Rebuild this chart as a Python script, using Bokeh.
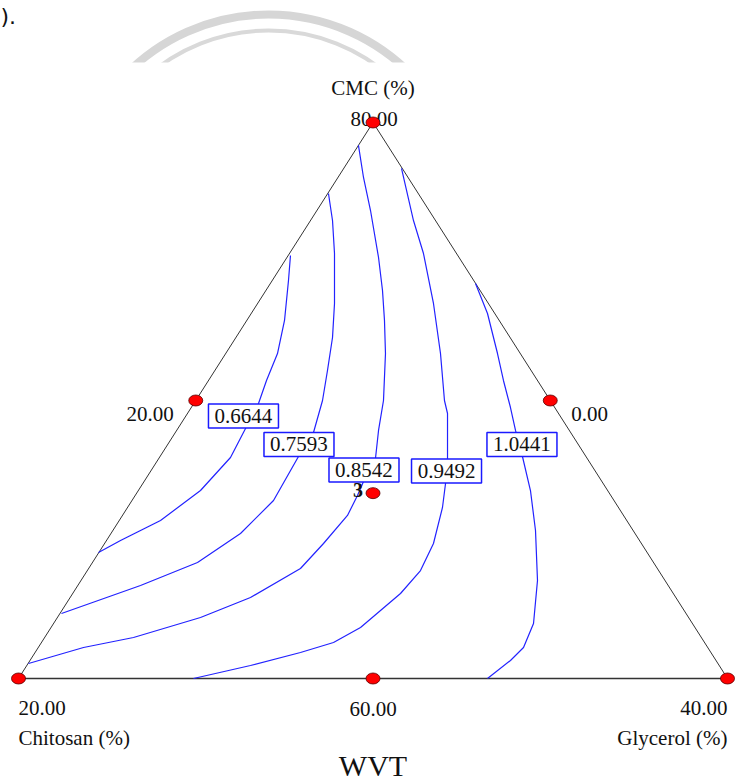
import math
from bokeh.plotting import figure
from bokeh.models import Range1d
from bokeh.core.properties import value
from bokeh.embed import file_html
from bokeh.resources import INLINE

# ---------------- data (triangle plane: u along base 0..100, v height 0..100) ----------------
levels = ["0.6644", "0.7593", "0.8542", "0.9492", "1.0441"]

c1_u = [38.36, 38.08, 37.52, 36.53, 34.98, 33.85, 32.02, 29.90, 25.67, 20.03, 14.39, 11.28]
c1_v = [76.08, 71.58, 64.39, 58.45, 53.60, 49.46, 44.96, 39.75, 33.81, 28.42, 24.82, 22.66]

c2_u = [43.72, 44.29, 44.57, 44.57, 44.29, 43.58, 42.88, 41.61, 39.49, 35.97, 31.31, 25.25, 17.21, 6.06]
c2_v = [87.23, 82.37, 76.44, 67.45, 61.33, 55.40, 50.00, 44.24, 39.93, 32.01, 26.08, 20.86, 16.73, 11.69]

c3_u = [47.95, 48.66, 49.65, 50.78, 51.34, 51.62, 51.76, 51.48, 50.78, 50.35, 48.66, 47.81, 46.40,
        43.02, 39.77, 32.72, 25.67, 16.22, 9.17, 1.41]
c3_v = [95.87, 90.11, 84.17, 75.72, 69.79, 64.39, 58.45, 50.00, 44.61, 39.57, 35.43, 32.91, 29.32,
        24.28, 19.78, 14.57, 10.97, 7.37, 5.58, 2.70]

c4_u = [54.02, 55.71, 57.12, 58.53, 59.52, 60.08, 60.51, 60.51, 60.23, 59.80, 58.53, 56.70, 53.88,
        51.06, 48.24, 44.43, 39.77, 32.72, 24.68]
c4_v = [91.73, 82.37, 76.44, 67.45, 58.45, 50.00, 47.66, 39.57, 35.07, 30.76, 24.28, 19.42, 15.29,
        12.23, 9.17, 6.47, 4.68, 2.34, 0.00]

c5_u = [64.46, 66.15, 67.56, 68.40, 69.39, 70.10, 71.08, 72.21, 72.92, 73.20, 72.64, 71.23, 69.39, 66.15]
c5_v = [71.04, 65.65, 58.45, 53.60, 48.74, 44.61, 39.93, 33.81, 26.62, 17.63, 9.89, 5.58, 3.24, 0.00]

label_u = [31.73, 39.56, 48.73, 60.37, 71.01]
label_v = [47.21, 42.09, 37.50, 37.32, 42.09]

# design points as pseudo-component fractions (CMC, Chitosan, Glycerol)
design_a = [1.0, 0.0, 0.0, 0.5, 0.5, 0.0, 1 / 3]
design_b = [0.0, 1.0, 0.0, 0.5, 0.0, 0.5, 1 / 3]
design_c = [0.0, 0.0, 1.0, 0.0, 0.5, 0.5, 1 / 3]
replicates = "3"

vertex_titles = ["CMC (%)", "Chitosan (%)", "Glycerol (%)"]
tick_labels = ["80.00", "20.00", "0.00", "20.00", "60.00", "40.00"]
title = "WVT"

# ---------------- layout ----------------
W, H = 749, 783
PX_U, PX_V = 7.09, 5.56        # screen px per data unit
X0, Y0 = 18.0, 678.0           # screen position of (0, 0) inside the figure
x_lo, x_hi = -X0 / PX_U, (W - X0) / PX_U
y_hi, y_lo = Y0 / PX_V, (Y0 - H) / PX_V


def off(u, v, dx, dy):
    """shift a data point by screen pixels (dy positive = down)"""
    return u + dx / PX_U, v - dy / PX_V


def scr(px, py):
    """data position of a screen pixel (decorations only)"""
    return (px - X0) / PX_U, (Y0 - py) / PX_V


def to_uv(a, b, c):
    return 100 * (c + a / 2), 100 * a


p = figure(width=W, height=H, x_range=Range1d(x_lo, x_hi), y_range=Range1d(y_lo, y_hi),
           output_backend="svg", toolbar_location=None, min_border=0,
           x_axis_type=None, y_axis_type=None)
p.outline_line_color = None
p.background_fill_color = "white"
p.border_fill_color = "white"

SERIF = value("Liberation Serif")

# faint watermark arcs at top (cut off by the white page band)
wc_u, wc_v = scr(268, 214)
p.arc(x=[wc_u], y=[wc_v], radius=200, radius_units="screen",
      start_angle=math.radians(44), end_angle=math.radians(136),
      line_color="#d6d6d6", line_width=8)
p.arc(x=[wc_u], y=[wc_v], radius=184, radius_units="screen",
      start_angle=math.radians(48), end_angle=math.radians(132),
      line_color="#d9d9d9", line_width=4)
ql, qt = scr(90, 62)
qr, qb = scr(460, 108)
p.quad(left=[ql], right=[qr], top=[qt], bottom=[qb], fill_color="white", line_color=None)
tx, ty = scr(0, 16)
p.text(x=[tx], y=[ty], text=[")."],
       text_font=value("DejaVu Sans"), text_font_size="22px", text_color="#111111",
       text_align="left", text_baseline="middle")

# triangle frame
vu, vv = [], []
for a, b, c in [(1, 0, 0), (0, 1, 0), (0, 0, 1)]:
    u, v = to_uv(a, b, c)
    vu.append(u)
    vv.append(v)
p.line(x=[vu[1], vu[0], vu[2]], y=[vv[1], vv[0], vv[2]], line_color="#333333", line_width=1)
p.line(x=[vu[1], vu[2]], y=[vv[1], vv[2]], line_color="#333333", line_width=1.4)

# contours
p.multi_line(xs=[c1_u, c2_u, c3_u, c4_u, c5_u], ys=[c1_v, c2_v, c3_v, c4_v, c5_v],
             line_color="#2222ff", line_width=1.2)

# contour labels
p.rect(x=label_u, y=label_v, width=70, height=24, width_units="screen", height_units="screen",
       fill_color="white", line_color="#1a1aff", line_width=1.5)
p.text(x=label_u, y=label_v, text=levels, text_font=SERIF, text_font_size="21px",
       text_color="#111111", text_align="center", text_baseline="middle")


def label(u, v, dx, dy, txt, align, size="21px", baseline="middle"):
    x, y = off(u, v, dx, dy)
    p.text(x=[x], y=[y], text=[txt], text_font=SERIF, text_font_size=size,
           text_color="#111111", text_align=align, text_baseline=baseline)


top_u, top_v = vu[0], vv[0]
left_u, left_v = vu[1], vv[1]
right_u, right_v = vu[2], vv[2]
lm_u, lm_v = to_uv(0.5, 0.5, 0)
rm_u, rm_v = to_uv(0.5, 0, 0.5)
bm_u, bm_v = to_uv(0, 0.5, 0.5)

label(top_u, top_v, 0, -35, vertex_titles[0], "center")
label(top_u, top_v, 1, -4, tick_labels[0], "center")
label(lm_u, lm_v, -22, 13, tick_labels[1], "right")
label(rm_u, rm_v, 21, 13, tick_labels[2], "left")
label(left_u, left_v, 0, 29, tick_labels[3], "left")
label(bm_u, bm_v, 0, 30, tick_labels[4], "center")
label(right_u, right_v, 0, 29, tick_labels[5], "right")
label(left_u, left_v, 0, 59, vertex_titles[1], "left")
label(right_u, right_v, 0, 59, vertex_titles[2], "right")
label(bm_u, bm_v, 0, 87, title, "center", size="30px", baseline="middle")

# design points
du, dv = [], []
for a, b, c in zip(design_a, design_b, design_c):
    u, v = to_uv(a, b, c)
    du.append(u)
    dv.append(v)
p.ellipse(x=du, y=dv, width=14, height=11, width_units="screen", height_units="screen",
          fill_color="#ff0000", line_color="#550000", line_width=0.8)

cu, cv = off(du[-1], dv[-1], -15, -3)
p.text(x=[cu], y=[cv], text=[replicates], text_font=SERIF, text_font_size="20px",
       text_font_style="bold", text_color="#111111", text_align="center", text_baseline="middle")

open("out.html", "w").write(file_html(p, INLINE))
